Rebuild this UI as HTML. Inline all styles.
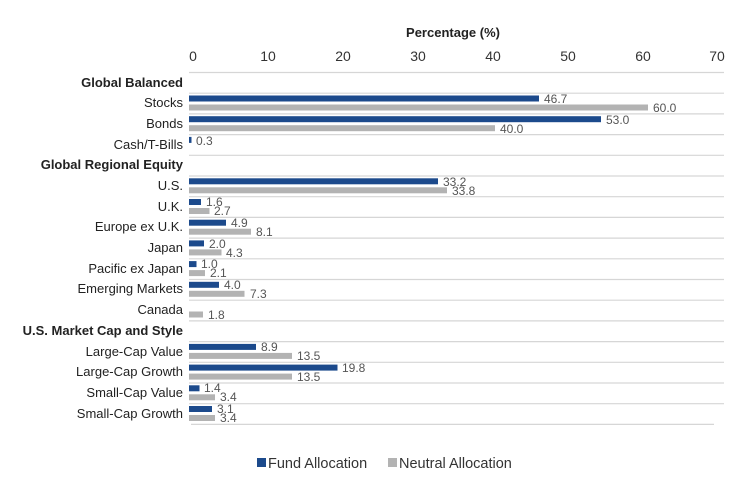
<!DOCTYPE html>
<html><head><meta charset="utf-8"><style>
html,body{margin:0;padding:0;background:#fff;}
svg{display:block;font-family:"Liberation Sans",sans-serif;}
</style></head><body>
<svg width="748" height="496" viewBox="0 0 748 496" xmlns="http://www.w3.org/2000/svg">
<text x="453" y="37" font-size="13" font-weight="bold" text-anchor="middle" fill="#222">Percentage (%)</text>
<g font-size="14" fill="#333" text-anchor="middle">
<text x="193" y="61">0</text><text x="268" y="61">10</text><text x="343" y="61">20</text><text x="418" y="61">30</text><text x="493" y="61">40</text><text x="568" y="61">50</text><text x="643" y="61">60</text><text x="717" y="61">70</text>
</g>
<g stroke="#d6d6d6" stroke-width="1.2">
<line x1="189" x2="724" y1="72.5" y2="72.5"/><line x1="189" x2="724" y1="93.2" y2="93.2"/><line x1="189" x2="724" y1="113.9" y2="113.9"/><line x1="189" x2="724" y1="134.6" y2="134.6"/><line x1="189" x2="724" y1="155.3" y2="155.3"/><line x1="189" x2="724" y1="176" y2="176"/><line x1="189" x2="724" y1="196.7" y2="196.7"/><line x1="189" x2="724" y1="217.4" y2="217.4"/><line x1="189" x2="724" y1="238.1" y2="238.1"/><line x1="189" x2="724" y1="258.8" y2="258.8"/><line x1="189" x2="724" y1="279.5" y2="279.5"/><line x1="189" x2="724" y1="300.2" y2="300.2"/><line x1="189" x2="724" y1="320.9" y2="320.9"/><line x1="189" x2="724" y1="341.6" y2="341.6"/><line x1="189" x2="724" y1="362.3" y2="362.3"/><line x1="189" x2="724" y1="383" y2="383"/><line x1="189" x2="724" y1="403.7" y2="403.7"/><line x1="191" x2="714" y1="424.4" y2="424.4"/>
</g>
<g font-size="13" fill="#222" text-anchor="end">
<text x="183" y="87" font-weight="bold">Global Balanced</text>
<text x="183" y="107">Stocks</text>
<text x="183" y="128">Bonds</text>
<text x="183" y="149">Cash/T-Bills</text>
<text x="183" y="169" font-weight="bold">Global Regional Equity</text>
<text x="183" y="190">U.S.</text>
<text x="183" y="211">U.K.</text>
<text x="183" y="231">Europe ex U.K.</text>
<text x="183" y="252">Japan</text>
<text x="183" y="273">Pacific ex Japan</text>
<text x="183" y="293">Emerging Markets</text>
<text x="183" y="314">Canada</text>
<text x="183" y="335" font-weight="bold">U.S. Market Cap and Style</text>
<text x="183" y="356">Large-Cap Value</text>
<text x="183" y="376">Large-Cap Growth</text>
<text x="183" y="397">Small-Cap Value</text>
<text x="183" y="418">Small-Cap Growth</text>
</g>
<g fill="#1c4a8c">
<rect x="189" y="95.5" width="350" height="6"/>
<rect x="189" y="116.2" width="412" height="6"/>
<rect x="189" y="136.9" width="2.5" height="6"/>
<rect x="189" y="178.3" width="249" height="6"/>
<rect x="189" y="199" width="12" height="6"/>
<rect x="189" y="219.7" width="37" height="6"/>
<rect x="189" y="240.4" width="15" height="6"/>
<rect x="189" y="261.1" width="7.5" height="6"/>
<rect x="189" y="281.8" width="30" height="6"/>
<rect x="189" y="343.9" width="67" height="6"/>
<rect x="189" y="364.6" width="148.5" height="6"/>
<rect x="189" y="385.3" width="10.5" height="6"/>
<rect x="189" y="406" width="23" height="6"/>
</g>
<g fill="#b3b3b3">
<rect x="189" y="104.5" width="459" height="6"/>
<rect x="189" y="125.2" width="306" height="6"/>
<rect x="189" y="187.3" width="258" height="6"/>
<rect x="189" y="208" width="20.5" height="6"/>
<rect x="189" y="228.7" width="62" height="6"/>
<rect x="189" y="249.4" width="32.5" height="6"/>
<rect x="189" y="270.1" width="16" height="6"/>
<rect x="189" y="290.8" width="55.5" height="6"/>
<rect x="189" y="311.5" width="14" height="6"/>
<rect x="189" y="352.9" width="103" height="6"/>
<rect x="189" y="373.6" width="103" height="6"/>
<rect x="189" y="394.3" width="26" height="6"/>
<rect x="189" y="415" width="26" height="6"/>
</g>
<g font-size="12" fill="#555">
<text x="544" y="103">46.7</text><text x="653" y="112">60.0</text>
<text x="606" y="124">53.0</text><text x="500" y="133">40.0</text>
<text x="196" y="145">0.3</text>
<text x="443" y="186">33.2</text><text x="452" y="195">33.8</text>
<text x="206" y="206">1.6</text><text x="214" y="215">2.7</text>
<text x="231" y="227">4.9</text><text x="256" y="236">8.1</text>
<text x="209" y="248">2.0</text><text x="226" y="257">4.3</text>
<text x="201" y="268">1.0</text><text x="210" y="277">2.1</text>
<text x="224" y="289">4.0</text><text x="250" y="298">7.3</text>
<text x="208" y="319">1.8</text>
<text x="261" y="351">8.9</text><text x="297" y="360">13.5</text>
<text x="342" y="372">19.8</text><text x="297" y="381">13.5</text>
<text x="204" y="392">1.4</text><text x="220" y="401">3.4</text>
<text x="217" y="413">3.1</text><text x="220" y="422">3.4</text>
</g>
<rect x="257" y="458" width="9" height="9" fill="#1c4a8c"/>
<text x="268" y="468" font-size="14.5" fill="#333">Fund Allocation</text>
<rect x="388" y="458" width="9" height="9" fill="#b3b3b3"/>
<text x="399" y="468" font-size="14.5" fill="#333">Neutral Allocation</text>
</svg>
</body></html>
